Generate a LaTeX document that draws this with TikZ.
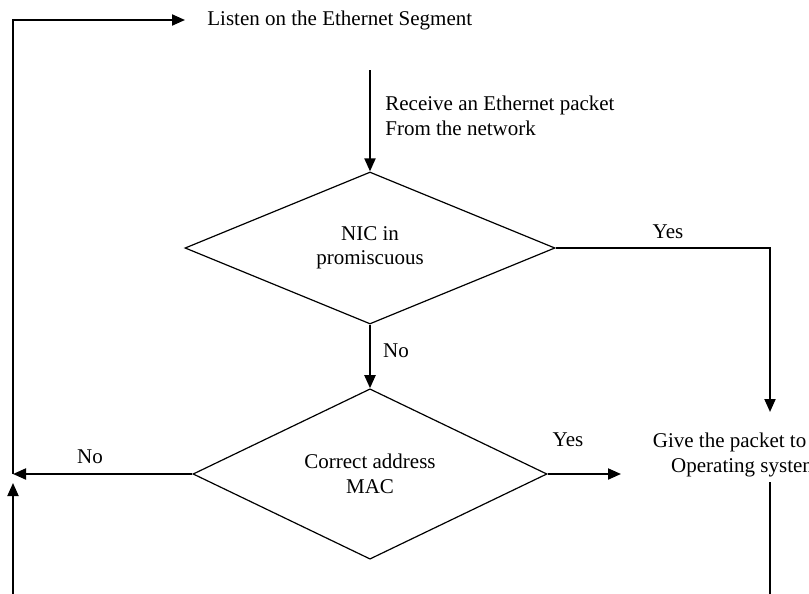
\documentclass[tikz,border=0pt]{standalone}
\usepackage{fontspec}
\setmainfont{Liberation Serif}
\usepackage{tikz}
\usetikzlibrary{positioning,arrows.meta,calc,shapes.geometric}
\tikzset{
    decision/.style = {
        draw,
        shape=diamond,
        inner sep=0pt,
        minimum width=185pt,
        minimum height=76pt,
        line width=0.6pt,
        align=center
    },
    label/.style = {
        shape=rectangle,
        inner sep=0pt,
        align=left
    },
    flow/.style = {
        draw,
        line width=1pt
    },
    >={Triangle[length=6.5pt,width=5.5pt]},
}

\begin{document}
\begin{tikzpicture}[x=0.5pt,y=-0.5pt,font=\fontsize{10.5}{12.2}\selectfont]
                \useasboundingbox (0,0) rectangle (809,594);
                \node[label,anchor=west] (listen) at (207,20) {Listen on the Ethernet Segment};
                \node[label] (receive) at (385,116) [anchor=west] {Receive an Ethernet packet\\From the network};
                \node[decision] (nic) at (370,248) {NIC in\\promiscuous};
                \node[decision,minimum width=177pt] (mac) at (370,474) {Correct address\\MAC};
                \node[label,align=center] (give) at (745,455) {Give the packet to the\\Operating system};
                \node[label] (yesnic) at (668,232) {Yes};
                \node[label] (nonic) at (396,351) {No};
                \node[label] (yesmac) at (568,440) {Yes};
                \node[label] (nomac) at (90,457) {No};

                \coordinate (start) at (370,70);
                \coordinate (corner) at (13,474);
                \coordinate (loopin) at (13,483);
                \coordinate (bottomleft) at (13,594);
                \coordinate (givein) at (770,412);
                \coordinate (giveout) at (770,482);
                \coordinate (bottomright) at (770,594);
                \coordinate (yesend) at (621,474);

                \path[flow, ->] (start) -- (nic.north);
                \path[flow, ->] (nic.south) -- (mac.north);
                \path[flow, ->] (nic.east) -| (givein);
                \path[flow, ->] (mac.east) -- (yesend);
                \path[flow, ->] (mac.west) -- (corner);
                \path[flow, ->, shorten >=11pt] (corner) |- (listen.west);
                \path[flow, ->] (bottomleft) -- (loopin);
                \path[flow] (giveout) -- (bottomright);
            \end{tikzpicture}
\end{document}
